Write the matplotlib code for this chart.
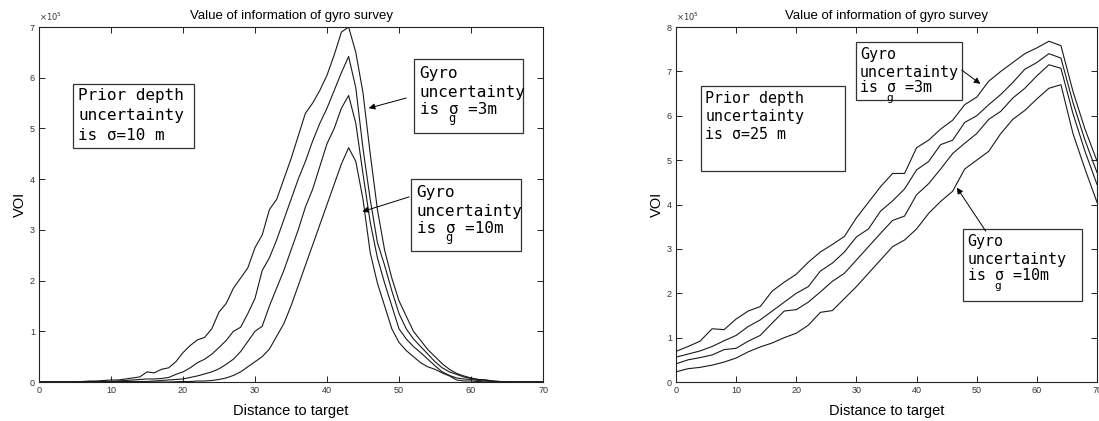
import matplotlib
matplotlib.use("Agg")
import matplotlib.pyplot as plt
import numpy as np
from matplotlib.patches import Rectangle

# left panel: prior sigma = 10 m, one value per unit distance (x 1e5)
dist_10 = np.arange(0, 71)
voi10_a = [0, 0, 0, 0, 0, 0.005, 0.01, 0.02, 0.02, 0.03,
           0.04, 0.04, 0.06, 0.08, 0.1, 0.2, 0.18, 0.25, 0.28, 0.4,
           0.58, 0.72, 0.83, 0.88, 1.05, 1.38, 1.55, 1.85, 2.05, 2.25,
           2.65, 2.9, 3.4, 3.6, 4.0, 4.4, 4.85, 5.3, 5.5, 5.75,
           6.05, 6.45, 6.9, 7.0, 6.5, 5.7, 4.5, 3.4, 2.6, 2.05,
           1.6, 1.3, 1.0, 0.82, 0.64, 0.5, 0.36, 0.25, 0.17, 0.12,
           0.08, 0.05, 0.04, 0.02, 0.01, 0.005, 0, 0, 0, 0, 0]
voi10_b = [0, 0, 0, 0, 0, 0, 0, 0.005, 0.01, 0.01,
           0.01, 0.02, 0.03, 0.04, 0.05, 0.06, 0.06, 0.07, 0.09, 0.15,
           0.2, 0.28, 0.38, 0.45, 0.55, 0.68, 0.82, 1.0, 1.08, 1.35,
           1.65, 2.2, 2.45, 2.8, 3.2, 3.6, 4.0, 4.35, 4.75, 5.1,
           5.4, 5.75, 6.1, 6.42, 5.8, 4.6, 3.6, 2.75, 2.3, 1.8,
           1.35, 1.05, 0.85, 0.7, 0.55, 0.4, 0.28, 0.2, 0.15, 0.1,
           0.07, 0.05, 0.04, 0.02, 0.01, 0, 0, 0, 0, 0, 0]
voi10_c = [0, 0, 0, 0, 0, 0, 0, 0, 0, 0.005,
           0.005, 0.01, 0.01, 0.01, 0.01, 0.01, 0.02, 0.03, 0.04, 0.05,
           0.06, 0.09, 0.12, 0.16, 0.2, 0.26, 0.35, 0.45, 0.6, 0.8,
           1.0, 1.1, 1.5, 1.85, 2.2, 2.6, 3.0, 3.45, 3.8, 4.25,
           4.7, 5.0, 5.4, 5.65, 5.1, 4.1, 3.15, 2.45, 1.95, 1.5,
           1.05, 0.85, 0.7, 0.58, 0.45, 0.32, 0.2, 0.13, 0.08, 0.06,
           0.05, 0.03, 0.02, 0.01, 0, 0, 0, 0, 0, 0, 0]
voi10_d = [0, 0, 0, 0, 0, 0, 0, 0, 0, 0,
           0, 0, 0, 0, 0, 0, 0, 0, 0, 0.005,
           0.01, 0.01, 0.02, 0.02, 0.03, 0.05, 0.08, 0.13, 0.2, 0.3,
           0.4, 0.5, 0.65, 0.9, 1.15, 1.5, 1.9, 2.3, 2.7, 3.1,
           3.5, 3.9, 4.3, 4.62, 4.35, 3.6, 2.55, 1.95, 1.5, 1.05,
           0.78, 0.62, 0.5, 0.38, 0.3, 0.25, 0.18, 0.12, 0.04, 0.02,
           0.02, 0.01, 0, 0, 0, 0, 0, 0, 0, 0, 0]

# right panel: prior sigma = 25 m, every 2 units (x 1e5)
dist_25 = np.arange(0, 71, 2)
voi25_a = [0.69, 0.8, 0.92, 1.2, 1.18, 1.42, 1.6, 1.7, 2.05, 2.25,
           2.43, 2.7, 2.93, 3.1, 3.28, 3.7, 4.05, 4.4, 4.7, 4.7,
           5.28, 5.45, 5.7, 5.9, 6.25, 6.42, 6.78, 7.0, 7.2, 7.4,
           7.53, 7.68, 7.58, 6.55, 5.7, 4.98]
voi25_b = [0.56, 0.63, 0.7, 0.8, 0.93, 1.05, 1.25, 1.4, 1.6, 1.8,
           2.0, 2.15, 2.5, 2.68, 2.93, 3.27, 3.45, 3.85, 4.08, 4.35,
           4.78, 4.97, 5.35, 5.45, 5.85, 6.0, 6.25, 6.48, 6.75, 7.05,
           7.2, 7.4, 7.3, 6.3, 5.45, 4.72]
voi25_c = [0.41, 0.5, 0.55, 0.61, 0.73, 0.76, 0.92, 1.05, 1.33, 1.6,
           1.63, 1.8, 2.03, 2.27, 2.45, 2.75, 3.05, 3.35, 3.64, 3.74,
           4.22, 4.47, 4.8, 5.15, 5.38, 5.6, 5.92, 6.1, 6.4, 6.62,
           6.9, 7.15, 7.07, 6.05, 5.2, 4.45]
voi25_d = [0.23, 0.3, 0.33, 0.38, 0.45, 0.54, 0.68, 0.79, 0.88, 1.0,
           1.1, 1.28, 1.57, 1.61, 1.88, 2.15, 2.45, 2.75, 3.05, 3.2,
           3.45, 3.8, 4.07, 4.3, 4.8, 5.0, 5.2, 5.6, 5.92, 6.12,
           6.38, 6.62, 6.7, 5.6, 4.8, 4.05]

SCALE = 1e5
LINE = '#1a1a1a'
MONO = 'DejaVu Sans Mono'

plt.rcParams['font.family'] = ['Liberation Sans', 'DejaVu Sans']

fig = plt.figure(figsize=(10.99, 4.21), dpi=100)
ax1 = fig.add_axes([0.0355, 0.0926, 0.4586, 0.8432])
ax2 = fig.add_axes([0.6151, 0.0926, 0.3831, 0.8432])


def text_box(ax, x0, y0, w, h, tx, lines, ys, g_y=None, size=11):
    ax.add_patch(Rectangle((x0, y0), w, h, fill=False, ec='#333333', lw=0.9, zorder=3))
    for s, y in zip(lines, ys):
        ax.text(tx, y, s, family=MONO, fontsize=size, va='center', ha='left', zorder=4)
    if g_y is not None:
        # subscript g under the gap after sigma
        ax.text(tx, g_y, '    g', family=MONO, fontsize=size * 0.75, va='center',
                ha='left', zorder=4)


def style(ax, ymax):
    ax.set_xlim(0, 70)
    ax.set_ylim(0, ymax * SCALE)
    ax.set_xticks(range(0, 71, 10))
    ax.set_yticks(np.arange(0, ymax + 1) * SCALE)
    ax.yaxis.set_major_formatter(matplotlib.ticker.FuncFormatter(lambda v, p: f'{v / SCALE:g}'))
    ax.tick_params(direction='in', top=True, right=True, length=4, width=0.6,
                   labelsize=6.5, labelcolor='#333333', pad=3)
    for sp in ax.spines.values():
        sp.set_linewidth(0.8)
        sp.set_color('#222222')
    ax.set_title('Value of information of gyro survey', fontsize=9.5, pad=6)
    ax.set_xlabel('Distance to target', fontsize=10.5, labelpad=6)
    ax.set_ylabel('VOI', fontsize=10.5, labelpad=2)
    ax.text(0, (ymax + 0.08) * SCALE, r'$\times 10^5$', fontsize=6, color='#333333',
            ha='left', va='bottom')


arrow = dict(arrowstyle='-|>', lw=0.7, color='black', mutation_scale=9, shrinkA=0, shrinkB=0)
S = SCALE

# left panel
for ys in [voi10_a, voi10_b, voi10_c, voi10_d]:
    ax1.plot(dist_10, np.array(ys) * SCALE, color=LINE, lw=0.8)
style(ax1, 7)

text_box(ax1, 4.76, 4.62 * S, 16.74, 1.26 * S, 5.45,
         ['Prior depth', 'uncertainty', 'is σ=10 m'], [5.65 * S, 5.25 * S, 4.87 * S], size=11.5)
text_box(ax1, 52.1, 4.91 * S, 15.1, 1.45 * S, 52.85,
         ['Gyro', 'uncertainty', 'is σ =3m'], [6.09 * S, 5.70 * S, 5.38 * S], 5.2 * S, size=11.5)
text_box(ax1, 51.7, 2.58 * S, 15.2, 1.42 * S, 52.45,
         ['Gyro', 'uncertainty', 'is σ =10m'], [3.73 * S, 3.37 * S, 3.02 * S], 2.85 * S, size=11.5)
ax1.annotate('', xy=(45.8, 5.4 * S), xytext=(51.0, 5.6 * S), arrowprops=arrow)
ax1.annotate('', xy=(44.9, 3.36 * S), xytext=(51.4, 3.65 * S), arrowprops=arrow)

# right panel
for ys in [voi25_a, voi25_b, voi25_c, voi25_d]:
    ax2.plot(dist_25, np.array(ys) * SCALE, color=LINE, lw=0.8)
style(ax2, 8)

text_box(ax2, 4.17, 4.76 * S, 23.9, 1.91 * S, 4.86,
         ['Prior depth', 'uncertainty', 'is σ=25 m'], [6.4 * S, 5.99 * S, 5.57 * S], size=10.8)
text_box(ax2, 29.9, 6.35 * S, 17.6, 1.32 * S, 30.6,
         ['Gyro', 'uncertainty', 'is σ =3m'], [7.38 * S, 6.97 * S, 6.63 * S], 6.41 * S, size=10.8)
text_box(ax2, 47.8, 1.82 * S, 19.7, 1.62 * S, 48.5,
         ['Gyro', 'uncertainty', 'is σ =10m'], [3.16 * S, 2.76 * S, 2.40 * S], 2.17 * S, size=10.8)
ax2.annotate('', xy=(50.6, 6.72 * S), xytext=(47.5, 7.03 * S), arrowprops=arrow)
ax2.annotate('', xy=(46.7, 4.38 * S), xytext=(51.5, 3.40 * S), arrowprops=arrow)

fig.savefig('out.png', dpi=100)
